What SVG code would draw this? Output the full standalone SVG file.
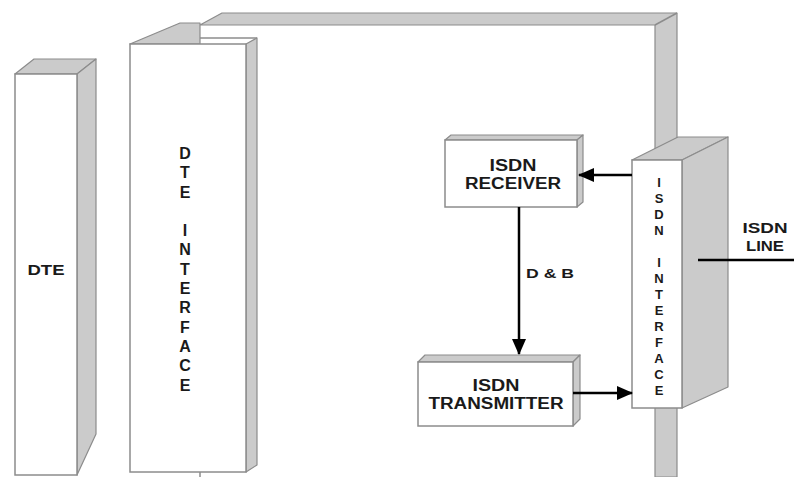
<svg xmlns="http://www.w3.org/2000/svg" width="794" height="477" viewBox="0 0 794 477">
<defs>
<style>
.face{fill:#ffffff;stroke:#8c8c8c;stroke-width:1.5}
.shade{fill:#cbcbcb;stroke:#8c8c8c;stroke-width:1.2;stroke-linejoin:round}
.edge{fill:none;stroke:#8c8c8c;stroke-width:1.5}
.lbl{font-family:"Liberation Sans",Arial,sans-serif;font-weight:bold;fill:#1a1a1a;text-anchor:middle}
.wire{fill:none;stroke:#000;stroke-width:2.5}
</style>
<marker id="ah" viewBox="0 0 16 14" refX="15" refY="7" markerWidth="16" markerHeight="14" markerUnits="userSpaceOnUse" orient="auto">
<path d="M0,0 L16,7 L0,14 Z" fill="#000"/>
</marker>
</defs>
<rect width="794" height="477" fill="#ffffff"/>

<g id="backplane">
<polygon class="shade" points="200,25 222,13 677,13 677,477 655,477 655,25"/>
<line class="edge" x1="655" y1="25" x2="677" y2="13"/>
<line class="edge" x1="200" y1="472" x2="200" y2="477"/>
</g>

<g id="dte">
<polygon class="shade" points="15,74 34,59 96,59 77,74"/>
<polygon class="shade" points="77,74 96,59 96,434 77,475"/>
<rect class="face" x="15" y="74" width="62" height="401"/>
<text class="lbl" x="46" y="275" font-size="14" textLength="37" lengthAdjust="spacingAndGlyphs">DTE</text>
</g>

<g id="dte-interface">
<polygon class="shade" points="130,44 180,23 200,23 200,44"/>
<line class="edge" x1="200" y1="38" x2="257" y2="38"/>
<polygon class="shade" points="246,44 257,38 257,465 246,472"/>
<rect class="face" x="130" y="44" width="116" height="428"/>
<g class="lbl" font-size="16">
<text x="185" y="159">D</text>
<text x="185" y="178">T</text>
<text x="185" y="198">E</text>
<text x="185" y="236">I</text>
<text x="185" y="255">N</text>
<text x="185" y="275">T</text>
<text x="185" y="294">E</text>
<text x="185" y="313">R</text>
<text x="185" y="333">F</text>
<text x="185" y="352">A</text>
<text x="185" y="371">C</text>
<text x="185" y="391">E</text>
</g>
</g>

<g id="isdn-interface">
<polygon class="shade" points="632,160 678,137 728,137 682,160"/>
<polygon class="shade" points="682,160 728,137 728,387 682,408"/>
<rect class="face" x="632" y="160" width="50" height="248"/>
<g class="lbl" font-size="13">
<text x="659" y="187">I</text>
<text x="659" y="203">S</text>
<text x="659" y="219">D</text>
<text x="659" y="235">N</text>
<text x="659" y="267">I</text>
<text x="659" y="283">N</text>
<text x="659" y="299">T</text>
<text x="659" y="315">E</text>
<text x="659" y="331">R</text>
<text x="659" y="347">F</text>
<text x="659" y="363">A</text>
<text x="659" y="379">C</text>
<text x="659" y="395">E</text>
</g>
</g>

<g id="isdn-receiver">
<polygon class="shade" points="445,140 451,135 583,135 577,140"/>
<polygon class="shade" points="577,140 583,135 583,202 577,207"/>
<rect class="face" x="445" y="140" width="132" height="67"/>
<text class="lbl" x="513" y="171" font-size="16" textLength="47" lengthAdjust="spacingAndGlyphs">ISDN</text>
<text class="lbl" x="513" y="189" font-size="16" textLength="96" lengthAdjust="spacingAndGlyphs">RECEIVER</text>
</g>

<g id="isdn-transmitter">
<polygon class="shade" points="418,362 425,355 580,355 573,362"/>
<polygon class="shade" points="573,362 580,355 580,419 573,426"/>
<rect class="face" x="418" y="362" width="155" height="64"/>
<text class="lbl" x="496" y="391" font-size="16" textLength="47" lengthAdjust="spacingAndGlyphs">ISDN</text>
<text class="lbl" x="496" y="409" font-size="16" textLength="135" lengthAdjust="spacingAndGlyphs">TRANSMITTER</text>
</g>

<g id="isdn-line-label">
<text class="lbl" x="765" y="233" font-size="15" textLength="45" lengthAdjust="spacingAndGlyphs">ISDN</text>
<text class="lbl" x="765" y="251" font-size="15" textLength="38" lengthAdjust="spacingAndGlyphs">LINE</text>
</g>

<g id="connectors">
<line class="wire" x1="632" y1="175" x2="579" y2="175" marker-end="url(#ah)"/>
<line class="wire" x1="519" y1="207" x2="519" y2="354" marker-end="url(#ah)"/>
<line class="wire" x1="573" y1="393" x2="632" y2="393" marker-end="url(#ah)"/>
<line class="wire" x1="698" y1="260" x2="794" y2="260"/>
<text class="lbl" x="550" y="278" font-size="13" textLength="48" lengthAdjust="spacingAndGlyphs">D &amp; B</text>
</g>
</svg>
